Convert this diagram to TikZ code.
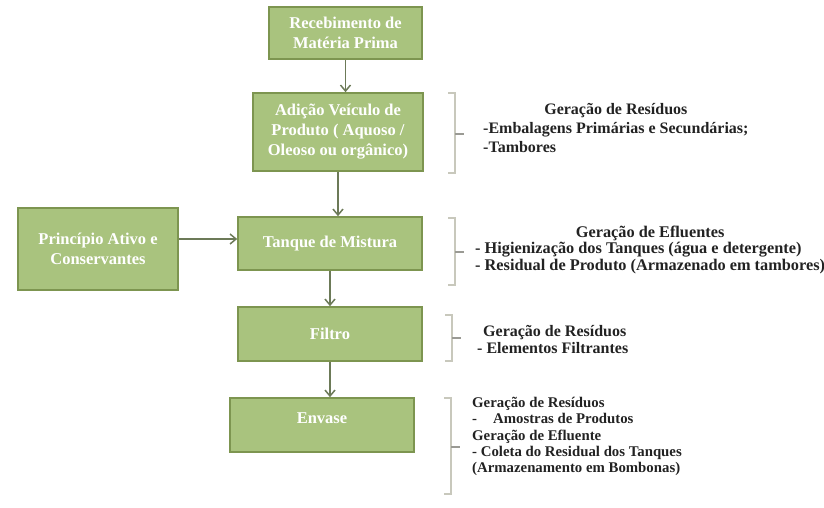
\documentclass[tikz,border=0pt]{standalone}
\usepackage{fontspec}
\setmainfont{Liberation Serif}
\usetikzlibrary{arrows.meta}
\definecolor{boxfill}{HTML}{A9C37E}
\definecolor{boxline}{HTML}{7D9550}
\definecolor{arrowc}{HTML}{6C7A58}
\definecolor{bracec}{HTML}{C8C8BC}
\definecolor{tickc}{HTML}{9A9A94}
\definecolor{txt}{HTML}{222222}
\tikzset{
  x=1pt, y=-1pt,
  procbox/.style={draw=boxline, line width=1.6pt, fill=boxfill, text=white,
    font=\bfseries\fontsize{16.5}{20}\selectfont, align=center, inner sep=0pt},
  flow/.style={draw=arrowc, line width=1.7pt, -{Straight Barb[length=6pt,width=10pt,line width=1.5pt]}},
  bracepath/.style={draw=bracec, line width=1.3pt},
  bracetick/.style={draw=tickc, line width=1.2pt},
  note/.style={anchor=north west, inner sep=0pt, text=txt},
}
\begin{document}
\begin{tikzpicture}
\useasboundingbox (0,0) rectangle (824,507);
% boxes
\node[procbox, minimum width=153pt, minimum height=52pt] (b1) at (345.5,33) {Recebimento de\\Matéria Prima};
\node[procbox, minimum width=170pt, minimum height=78pt] (b2) at (338,132) {Adição Veículo de\\Produto ( Aquoso /\\Oleoso ou orgânico)};
\node[procbox, minimum width=160pt, minimum height=82pt] (b3) at (98,249) {Princípio Ativo e\\Conservantes};
\node[procbox, minimum width=184pt, minimum height=53pt] (b4) at (330,243.5) {Tanque de Mistura};
\node[procbox, minimum width=184pt, minimum height=54pt] (b5) at (330,334) {Filtro};
\node[procbox, minimum width=184pt, minimum height=54pt, text depth=14pt] (b6) at (322,425) {Envase};
% connectors
\draw[flow] (b1.south) -- (b1.south |- b2.north);
\draw[flow] (b2.south) -- (b2.south |- b4.north);
\draw[flow] ([yshift=10pt]b3.east) -- ([yshift=10pt]b3.east -| b4.west);
\draw[flow] (b4.south) -- (b4.south |- b5.north);
\draw[flow] (b5.south) -- (b5.south |- b6.north);
% braces
\draw[bracepath] (448,93) -- (455,93) -- (455,173) -- (448,173);
\draw[bracetick] (455,134) -- (464,134);
\draw[bracepath] (448,218) -- (455,218) -- (455,285) -- (448,285);
\draw[bracetick] (455,252) -- (464,252);
\draw[bracepath] (445,315) -- (452,315) -- (452,361) -- (445,361);
\draw[bracetick] (452,338) -- (461,338);
\draw[bracepath] (444,398) -- (451,398) -- (451,494) -- (444,494);
\draw[bracetick] (451,447) -- (460,447);
% notes
\node[note, font=\bfseries\fontsize{16}{19}\selectfont] (n1) at (483,101)
  {\begin{tabular}{@{}l@{}}\multicolumn{1}{@{}c@{}}{Geração de Resíduos}\\-Embalagens Primárias e Secundárias;\\-Tambores\end{tabular}};
\node[note, font=\bfseries\fontsize{16.3}{16.5}\selectfont] (n2) at (475,225.5)
  {\begin{tabular}{@{}l@{}}\multicolumn{1}{@{}c@{}}{Geração de Efluentes}\\- Higienização dos Tanques (água e detergente)\\- Residual de Produto (Armazenado em tambores)\end{tabular}};
\node[note, font=\bfseries\fontsize{16}{17}\selectfont] (n3) at (477,324)
  {\begin{tabular}{@{}l@{}}\hspace{6pt}Geração de Resíduos\\- Elementos Filtrantes\end{tabular}};
\node[note, font=\bfseries\fontsize{14.8}{16.3}\selectfont] (n4) at (472,396)
  {\begin{tabular}{@{}l@{}}Geração de Resíduos\\-\hspace{16pt}Amostras de Produtos\\Geração de Efluente\\- Coleta do Residual dos Tanques\\(Armazenamento em Bombonas)\end{tabular}};
\end{tikzpicture}
\end{document}
